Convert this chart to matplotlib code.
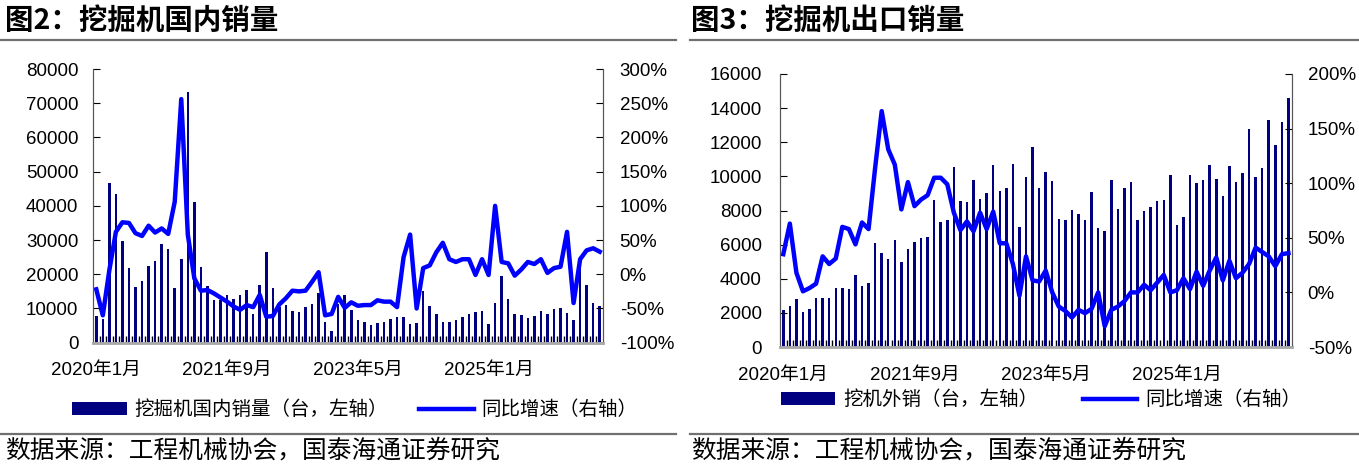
import numpy as np
import matplotlib
matplotlib.use('Agg')
import matplotlib.pyplot as plt
from matplotlib.lines import Line2D
from matplotlib.ticker import FixedLocator, FuncFormatter

plt.rcParams['font.family'] = ['Liberation Sans', 'Noto Sans CJK SC']

# 数据：2020年1月 - 2026年6月，逐月
xtick_pos = [0, 20, 40, 60]
xtick_labels = ['2020年1月', '2021年9月', '2023年5月', '2025年1月']

# 图2：挖掘机国内销量（台）及同比（%）
dom_sales = [7800, 6900, 46600, 43400, 29600, 21700, 16200, 18100, 22500, 23900, 28900, 27300,
             16000, 24500, 73200, 41200, 22000, 16700, 12500, 12500, 13900, 12700, 14000, 15400,
             8300, 17000, 26500, 16000, 10500, 10900, 9300, 8900, 10500, 11300, 14400, 6000,
             3300, 11200, 13900, 9600, 6600, 6000, 5100, 5700, 6100, 6800, 7400, 7400,
             5400, 5700, 15200, 10800, 8400, 6000, 6100, 6600, 7400, 8300, 8900, 9300,
             5400, 11700, 19400, 12700, 8300, 8000, 7200, 7700, 9200, 8400, 9800, 10200,
             8600, 6600, 23000, 16900, 11500, 10800]
dom_yoy = [-22, -60, 6, 62, 76, 75, 60, 56, 71, 61, 67, 59,
           106, 256, 58, -6, -24, -23, -28, -34, -40, -47, -52, -45,
           -48, -30, -62, -61, -44, -35, -24, -25, -24, -11, 3, -60,
           -58, -33, -49, -41, -46, -45, -45, -38, -40, -40, -48, 25,
           58, -50, 9, 13, 32, 46, 22, 18, 22, 22, -1, 22,
           -1, 100, 18, 16, -2, 7, 18, 15, 22, 2, 9, 11,
           62, -42, 22, 35, 38, 33]

# 图3：挖掘机出口销量（台）及同比（%）
exp_sales = [2150, 2380, 2790, 2050, 2220, 2900, 2850, 2850, 3430, 3430, 3400, 4200,
             3590, 3730, 6070, 5480, 5150, 6280, 5010, 5760, 6150, 6360, 6440, 8640,
             7340, 7450, 10540, 8550, 8470, 9760, 8700, 9000, 10690, 9170, 9290, 10750,
             7020, 9970, 11710, 9290, 10240, 9700, 7490, 7430, 8020, 7820, 7450, 9090,
             6990, 6790, 9810, 8060, 9330, 9680, 7470, 7960, 8230, 8550, 8590, 10090,
             7140, 7630, 10090, 9600, 9810, 10690, 9850, 8840, 10630, 9660, 10200, 12800,
             9990, 10480, 13330, 11840, 13170, 14580]
exp_yoy = [35, 63, 18, 1, 4, 8, 33, 26, 31, 60, 58, 44,
           64, 58, 114, 166, 131, 117, 76, 101, 79, 85, 89, 105,
           105, 99, 73, 57, 65, 56, 73, 58, 74, 45, 45, 26,
           -3, 33, 11, 10, 20, 0, -13, -17, -23, -16, -19, -15,
           0, -31, -16, -13, -8, 0, 0, 7, 2, 9, 16, 0,
           2, 13, 3, 19, 6, 20, 32, 11, 29, 13, 18, 26,
           41, 37, 33, 24, 35, 36]

W, H = 1359, 467
fig = plt.figure(figsize=(W / 100, H / 100), dpi=100)


def rect(l, t, r, b):
    return [l / W, 1 - b / H, (r - l) / W, (b - t) / H]


def panel(box, bars, yoy, ylim, ystep, y2lim, y2step, bar_label,
          padl, padr, padx, leg_xy, leg_gap):
    ax = fig.add_axes(rect(*box))
    x = np.arange(len(bars))
    ax.bar(x, bars, width=0.38, color='#000080', label=bar_label)
    ax.set_xlim(-0.5, len(bars) - 0.5)
    ax.set_ylim(*ylim)
    ax.set_yticks(np.arange(ylim[0], ylim[1] + 1, ystep))

    ax2 = ax.twinx()
    ax2.plot(x, yoy, color='#0000FF', lw=3.2, label='同比增速（右轴）',
             solid_joinstyle='round')
    ax2.set_ylim(*y2lim)
    ax2.set_yticks(np.arange(y2lim[0], y2lim[1] + 1, y2step))
    ax2.yaxis.set_major_formatter(FuncFormatter(lambda v, p: f'{v:.0f}%'))

    ax.set_xticks(xtick_pos)
    ax.set_xticklabels(xtick_labels)
    ax.xaxis.set_minor_locator(FixedLocator(np.arange(0.5, len(bars) - 0.5, 1)))
    ax.tick_params(axis='x', which='major', length=0, pad=padx, labelsize=13.5)
    ax.tick_params(axis='x', which='minor', direction='in', length=5,
                   width=1, color='#000000')
    ax.tick_params(axis='y', direction='in', length=5, pad=padl, labelsize=13.5)
    ax2.tick_params(axis='y', direction='in', length=5, pad=padr, labelsize=13.5)

    for a in (ax, ax2):
        a.spines['top'].set_visible(False)
        a.spines['left'].set_color('#555555')
        a.spines['right'].set_color('#555555')
        a.spines['bottom'].set_color('#aaaaaa')
        a.spines['bottom'].set_linewidth(1.8)

    h1, l1 = ax.get_legend_handles_labels()
    h2, l2 = ax2.get_legend_handles_labels()
    fig.legend(h1 + h2, l1 + l2, loc='center',
               bbox_to_anchor=(leg_xy[0] / W, 1 - leg_xy[1] / H),
               ncol=2, frameon=False, fontsize=14, handlelength=2.8,
               handleheight=0.6, handletextpad=0.4, columnspacing=leg_gap)
    return ax


panel((93, 69, 603, 342.7), dom_sales, dom_yoy, (0, 80000), 10000,
      (-100, 300), 50, '挖掘机国内销量（台，左轴）',
      10.5, 12, 13.5, (355, 410), 1.6)
panel((780, 74, 1291.7, 347), exp_sales, exp_yoy, (0, 16000), 2000,
      (-50, 200), 50, '挖机外销（台，左轴）',
      13, 11.5, 14.5, (1041, 400), 2.3)

# 标题、分隔线、来源
for x0, title in [(5, '图2：挖掘机国内销量'), (691, '图3：挖掘机出口销量')]:
    fig.text(x0 / W, 1 - 21 / H, title, fontsize=20.5, fontweight='bold',
             family='Noto Sans CJK SC', va='center')
    fig.text(x0 / W, 1 - 451 / H, '数据来源：工程机械协会，国泰海通证券研究',
             fontsize=17.8, family='Noto Sans CJK SC', va='center')

for l, r in [(0, 676), (690, 1359)]:
    for y in (40, 434):
        fig.add_artist(Line2D([l / W, r / W], [1 - y / H] * 2,
                              color='#707070', lw=1.6))

fig.savefig('out.png', dpi=100)
